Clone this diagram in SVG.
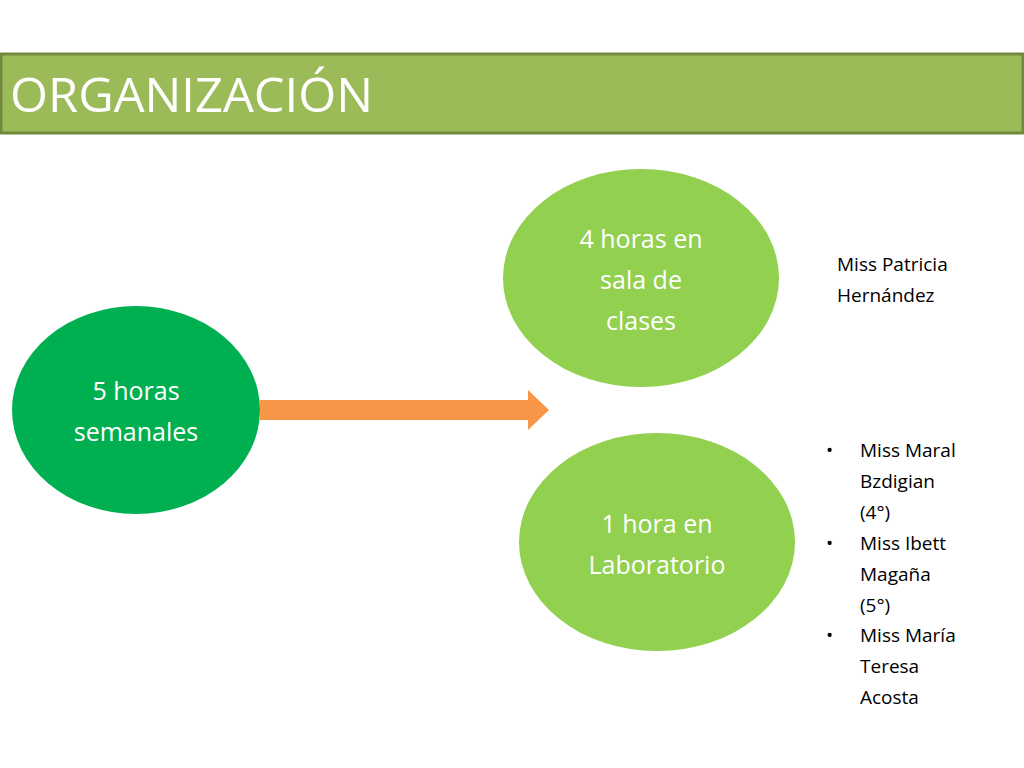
<svg xmlns="http://www.w3.org/2000/svg" width="1024" height="768" viewBox="0 0 1024 768">
<style>
text{font-family:"Open Sans","Noto Sans","Liberation Sans",sans-serif}
.n{fill:#fff;font-size:25px;text-anchor:middle}
.s{fill:#000;font-size:19px}
</style>
<rect width="1024" height="768" fill="#fff"/>
<g id="header">
<rect x="1" y="54" width="1022" height="79" fill="#9bbb59" stroke="#71893f" stroke-width="3"/>
<text x="10" y="112" fill="#fff" font-size="48" textLength="363" lengthAdjust="spacingAndGlyphs">ORGANIZACIÓN</text>
</g>
<g id="connectors">
<polygon points="260,400 528,400 528,390 549,410 528,430 528,420 260,420" fill="#f79646"/>
</g>
<g id="n1">
<ellipse cx="136" cy="410" rx="124" ry="104" fill="#00b050"/>
<text class="n" x="136" y="400">5 horas</text>
<text class="n" x="136" y="441">semanales</text>
</g>
<g id="n2">
<ellipse cx="641" cy="278" rx="138" ry="109" fill="#92d050"/>
<text class="n" x="641" y="248">4 horas en</text>
<text class="n" x="641" y="289">sala de</text>
<text class="n" x="641" y="330">clases</text>
</g>
<g id="n3">
<ellipse cx="657" cy="542" rx="138" ry="109" fill="#92d050"/>
<text class="n" x="657" y="533">1 hora en</text>
<text class="n" x="657" y="574">Laboratorio</text>
</g>
<g id="t1">
<text class="s" x="837" y="271">Miss Patricia</text>
<text class="s" x="837" y="302">Hernández</text>
</g>
<g id="t2">
<text class="s" x="826" y="457">•</text>
<text class="s" x="860" y="457">Miss Maral</text>
<text class="s" x="860" y="488">Bzdigian</text>
<text class="s" x="860" y="519">(4°)</text>
<text class="s" x="826" y="550">•</text>
<text class="s" x="860" y="550">Miss Ibett</text>
<text class="s" x="860" y="581">Magaña</text>
<text class="s" x="860" y="612">(5°)</text>
<text class="s" x="826" y="642">•</text>
<text class="s" x="860" y="642">Miss María</text>
<text class="s" x="860" y="673">Teresa</text>
<text class="s" x="860" y="704">Acosta</text>
</g>
</svg>
